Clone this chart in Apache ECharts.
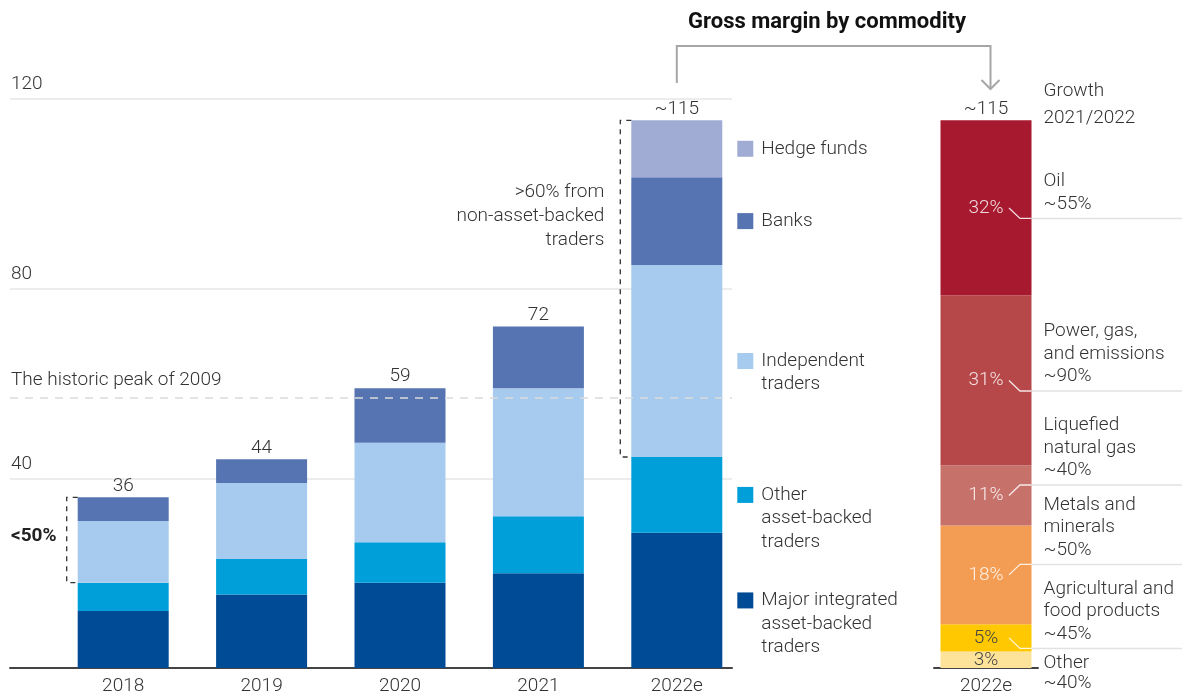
<!DOCTYPE html>
<html><head><meta charset="utf-8">
<script src="https://cdn.jsdelivr.net/npm/echarts@6/dist/echarts.min.js"></script>
<style>html,body{margin:0;padding:0;background:#fff}#c{width:1182px;height:700px}</style>
</head><body><div id="c"></div>
<script>
// ---------- data ----------
const years = ['2018', '2019', '2020', '2021', '2022e'];
const majorIntegrated = [12, 15.5, 18, 20, 28.5];
const otherAssetBacked = [6, 7.5, 8.5, 12, 16];
const independentTraders = [13, 16, 21, 27, 40.5];
const banks = [5, 5, 11.5, 13, 18.5];
const hedgeFunds = [0, 0, 0, 0, 12];
const totalLabels = ['36', '44', '59', '72', '~115'];
const totalAnchor = [0, 0, 0, 0, 0];
const yTicks = [0, 40, 80, 120];
const historicPeak = 57;
const legendNames = ['Major integrated\nasset-backed\ntraders', 'Other\nasset-backed\ntraders', 'Independent\ntraders', 'Banks', 'Hedge funds'];

const commodityCategory = ['2022e'];
const commodityNames = ['Oil', 'Power, gas,\nand emissions', 'Liquefied\nnatural gas', 'Metals and\nminerals', 'Agricultural and\nfood products', 'Other'];
const commodityShare = [32, 31, 11, 18, 5, 3];
const commodityGrowth = ['~55%', '~90%', '~40%', '~50%', '~45%', '~40%'];
const commodityTotalLabel = '~115';

// ---------- styles ----------
const FONT = 'Roboto, "Noto Sans", sans-serif';
const TXT = '#333333';
const FS = 19;
const leftColors = ['#004b96', '#009fda', '#a6cbee', '#5673b2', '#a1acd5'];
const rightColors = ['#a6192e', '#b7484a', '#c7716b', '#f39c53', '#ffc800', '#fde39a'];
const rightLabelColors = ['rgba(255,255,255,0.85)', 'rgba(255,255,255,0.85)', 'rgba(255,255,255,0.85)', 'rgba(255,255,255,0.85)', '#444', '#444'];

const chart = echarts.init(document.getElementById('c'));

function legendLabel(name, color) {
  const lines = name.split('\n');
  return {
    show: true, position: 'right', distance: 15,
    offset: [0, (lines.length - 1) * 23.5 / 2],
    formatter: p => p.dataIndex === years.length - 1
      ? lines.map((l, i) => (i === 0 ? '{sq|}' : '{ind|}') + '{t|' + l + '}').join('\n') : '',
    rich: {
      sq: { width: 16, height: 16, backgroundColor: color, verticalAlign: 'middle' },
      ind: { width: 16 },
      t: { fontSize: FS, fontFamily: FONT, fontWeight: 300, color: TXT, lineHeight: 23.5, padding: [0, 0, 0, 8], verticalAlign: 'middle' }
    }
  };
}

const leftData = [majorIntegrated, otherAssetBacked, independentTraders, banks, hedgeFunds];
const last = years.length - 1;
const leftTotal2022 = leftData.reduce((a, d) => a + d[last], 0);
const series = [];
series.push({
  type: 'scatter', xAxisIndex: 0, yAxisIndex: 0, data: [[0.5, -10]], symbolSize: 0, silent: true,
  markLine: {
    silent: true, symbol: 'none', animation: false,
    data: [{ yAxis: historicPeak }],
    lineStyle: { type: [8, 7], color: '#dcdcdc', width: 1.5 },
    label: { show: true, position: 'insideStartTop', distance: [1, 8], formatter: 'The historic peak of 2009', color: TXT, fontSize: FS, fontFamily: FONT, fontWeight: 300 }
  }
});
leftData.forEach((d, i) => {
  series.push({
    type: 'bar', xAxisIndex: 1, yAxisIndex: 1, stack: 'left', barWidth: 91,
    data: d, itemStyle: { color: leftColors[i] },
    label: legendLabel(legendNames[i], leftColors[i])
  });
});
series.push({
  type: 'bar', xAxisIndex: 1, yAxisIndex: 1, stack: 'left', barWidth: 91, data: totalAnchor,
  itemStyle: { color: 'transparent' },
  label: { show: true, position: 'top', distance: 2, formatter: p => totalLabels[p.dataIndex], fontSize: FS, fontFamily: FONT, fontWeight: 300, color: TXT }
});
// right bar: bottom to top
for (let i = commodityShare.length - 1; i >= 0; i--) {
  series.push({
    type: 'bar', xAxisIndex: 2, yAxisIndex: 2, stack: 'right', barWidth: 91,
    data: [commodityShare[i]], itemStyle: { color: rightColors[i] },
    label: { show: true, position: 'inside', formatter: '{c}%', fontSize: FS, fontFamily: FONT, fontWeight: 300, color: rightLabelColors[i] }
  });
}
series.push({
  type: 'bar', xAxisIndex: 2, yAxisIndex: 2, stack: 'right', barWidth: 91, data: [0],
  itemStyle: { color: 'transparent' },
  label: { show: true, position: 'top', distance: 2, formatter: commodityTotalLabel, fontSize: FS, fontFamily: FONT, fontWeight: 300, color: TXT }
});

const yMax = yTicks[yTicks.length - 1];
const catLabel = { fontSize: FS, fontFamily: FONT, fontWeight: 300, color: TXT, margin: 9 };
chart.setOption({
  animation: false,
  textStyle: { fontFamily: FONT },
  grid: [
    { left: 10, top: 99, width: 722, bottom: 32 },
    { left: 54, top: 99, width: 692, bottom: 32 },
    { left: 934, top: 99, width: 104, bottom: 32 }
  ],
  xAxis: [
    { gridIndex: 0, type: 'value', min: 0, max: 1, axisLine: { show: true, lineStyle: { color: '#444', width: 2 } }, axisTick: { show: false }, axisLabel: { show: false }, splitLine: { show: false } },
    { gridIndex: 1, type: 'category', data: years, axisLine: { show: false }, axisTick: { show: false }, axisLabel: catLabel },
    { gridIndex: 2, type: 'category', data: commodityCategory, axisLine: { show: true, lineStyle: { color: '#444', width: 2 } }, axisTick: { show: false }, axisLabel: catLabel }
  ],
  yAxis: [
    { gridIndex: 0, type: 'value', min: yTicks[0], max: yMax, interval: yTicks[1] - yTicks[0],
      axisLine: { show: false }, axisTick: { show: false },
      splitLine: { lineStyle: { color: '#e6e6e6', width: 1.5 } },
      axisLabel: { inside: true, margin: 1, align: 'left', verticalAlign: 'bottom', padding: [0, 0, 5, 0],
        formatter: v => v === 0 ? '' : String(v), fontSize: FS, fontFamily: FONT, fontWeight: 300, color: TXT } },
    { gridIndex: 1, type: 'value', min: yTicks[0], max: yMax, show: false, splitLine: { show: false } },
    { gridIndex: 2, type: 'value', min: 0, max: 100 * yMax / leftTotal2022, show: false, splitLine: { show: false } }
  ],
  series: series
});

// ---------- annotations positioned through the chart's scales ----------
const g = [];
const px = (axis, cat, val) => chart.convertToPixel({ xAxisIndex: axis, yAxisIndex: axis }, [cat, val]);
const halfBar = 45.5;

function bracket(idx) {
  const base = majorIntegrated[idx] + otherAssetBacked[idx];
  const top = base + independentTraders[idx] + banks[idx] + hedgeFunds[idx];
  const pTop = px(1, years[idx], top), pBot = px(1, years[idx], base);
  const xL = pTop[0] - halfBar - 11, xR = pTop[0] - halfBar;
  g.push({ type: 'polyline', shape: { points: [[xR, pTop[1]], [xL, pTop[1]], [xL, pBot[1]], [xR, pBot[1]]] },
    style: { stroke: '#333', lineWidth: 1.3, lineDash: [5, 5], fill: null }, z: 10 });
  return { xL, top: pTop[1], bot: pBot[1] };
}
const b18 = bracket(0);
g.push({ type: 'text', x: 11, y: (b18.top + b18.bot) / 2 - 4,
  style: { text: '<50%', fontSize: FS, fontFamily: FONT, fontWeight: 'bold', fill: '#222', align: 'left', verticalAlign: 'middle' } });
const b22 = bracket(last);
g.push({ type: 'text', x: b22.xL - 16, y: b22.top + 60,
  style: { text: '>60% from\nnon-asset-backed\ntraders', fontSize: FS, fontFamily: FONT, fontWeight: 300, fill: TXT, align: 'right', verticalAlign: 'top', lineHeight: 24 } });

// title bracket
const xLeftBar = px(1, years[last], 0)[0];
const xRightBar = px(2, commodityCategory[0], 0)[0];
const xArrow = xRightBar + 4.5;
g.push({ type: 'text', x: 827, y: 22,
  style: { text: 'Gross margin by commodity', fontSize: 22, fontFamily: FONT, fontWeight: 'bold', fill: '#111', align: 'center', verticalAlign: 'middle' } });
g.push({ type: 'polyline', shape: { points: [[xLeftBar, 83], [xLeftBar, 46], [xArrow, 46], [xArrow, 88]] },
  style: { stroke: '#a6a6a6', lineWidth: 2, fill: null } });
g.push({ type: 'polyline', shape: { points: [[xArrow - 9, 80], [xArrow, 89], [xArrow + 9, 80]] },
  style: { stroke: '#a6a6a6', lineWidth: 2, fill: null } });

// right side growth labels
const textX = xRightBar + 57.5;
g.push({ type: 'text', x: textX, y: 78,
  style: { text: 'Growth\n2021/2022', fontSize: FS, fontFamily: FONT, fontWeight: 300, fill: TXT, align: 'left', verticalAlign: 'top', lineHeight: 27 } });
const leaderDir = [1, 1, -1, -1, 1, 0];
let cumTop = commodityShare.reduce((a, b) => a + b, 0);
commodityShare.forEach((s, i) => {
  const mid = px(2, commodityCategory[0], cumTop - s / 2)[1];
  cumTop -= s;
  const label = commodityNames[i] + '\n' + commodityGrowth[i];
  if (leaderDir[i] === 0) {
    g.push({ type: 'text', x: textX, y: mid - 7,
      style: { text: label, fontSize: FS, fontFamily: FONT, fontWeight: 300, fill: TXT, align: 'left', verticalAlign: 'top', lineHeight: 20 } });
    return;
  }
  const ly = mid + leaderDir[i] * 10.5;
  g.push({ type: 'polyline', shape: { points: [[xRightBar + halfBar, ly], [1182, ly]] },
    style: { stroke: '#e2e2e2', lineWidth: 1.5, fill: null } });
  g.push({ type: 'polyline', shape: { points: [[xRightBar + 23, mid], [xRightBar + 34, ly], [xRightBar + halfBar, ly]] },
    style: { stroke: 'rgba(255,255,255,0.85)', lineWidth: 1.3, fill: null }, z: 10 });
  g.push({ type: 'text', x: textX, y: ly - 3,
    style: { text: label, fontSize: FS, fontFamily: FONT, fontWeight: 300, fill: TXT, align: 'left', verticalAlign: 'bottom', lineHeight: 22.5 } });
});

chart.setOption({ graphic: g });
</script>
</body></html>
